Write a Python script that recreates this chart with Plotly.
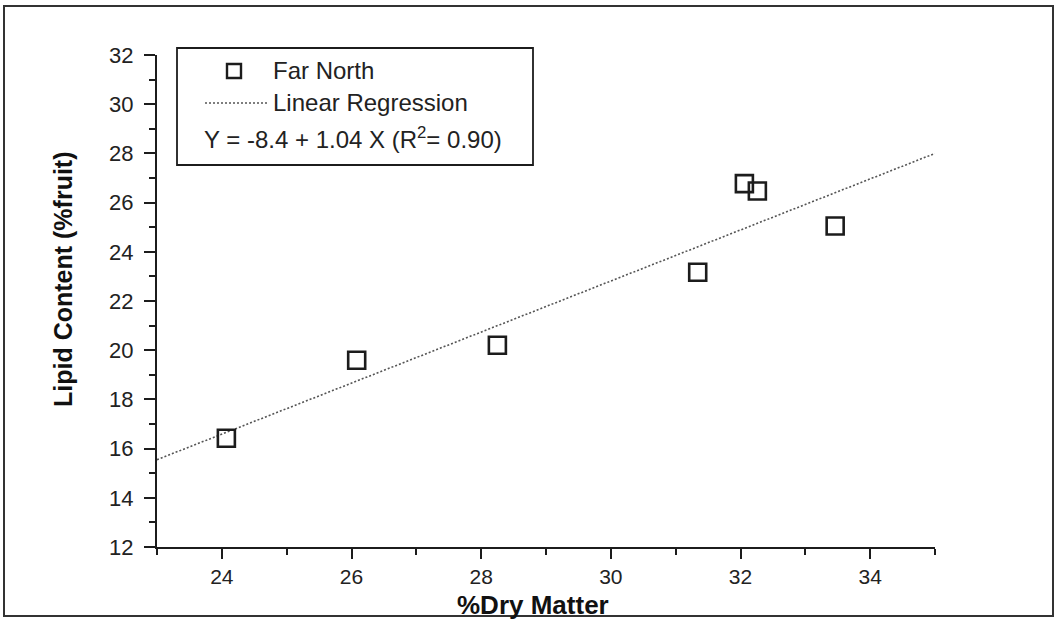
import plotly.graph_objects as go

# ---- data ----
dry_matter = [24.07, 26.08, 28.25, 31.34, 32.06, 32.26, 33.46]
lipid = [16.42, 19.59, 20.20, 23.17, 26.77, 26.47, 25.05]
reg_x = [23.0, 35.0]
reg_y = [15.55, 28.0]
x_ticks = [24, 26, 28, 30, 32, 34]
y_ticks = [12, 14, 16, 18, 20, 22, 24, 26, 28, 30, 32]
series_name = "Far North"
reg_name = "Linear Regression"
equation = "Y = -8.4 + 1.04 X (R<sup>2</sup>= 0.90)"
x_title = "%Dry Matter"
y_title = "Lipid Content (%fruit)"

W, H = 1056, 619
L, R, T, B = 157, 121, 55, 72
PW, PH = W - L - R, H - T - B


def px(x):
    return (x - L) / PW


def py(y):
    return (H - B - y) / PH


FONT = "Liberation Sans, Arial, Helvetica, sans-serif"
INK = "#1c1c1c"

fig = go.Figure()
fig.add_trace(go.Scatter(
    x=reg_x, y=reg_y, mode="lines", name=reg_name,
    line=dict(color="#555555", width=1.6, dash="2px,2px"),
    showlegend=False,
))
fig.add_trace(go.Scatter(
    x=dry_matter, y=lipid, mode="markers", name=series_name,
    marker=dict(symbol="square-open", size=17, color=INK,
                line=dict(color=INK, width=2.6)),
    showlegend=False,
))

axis_common = dict(
    showline=True, linecolor=INK, linewidth=2,
    ticks="outside", tickwidth=2, tickcolor=INK,
    showgrid=False, zeroline=False,
    minor=dict(ticks="outside", ticklen=6, tickwidth=2, tickcolor=INK, dtick=1, showgrid=False),
)

fig.update_xaxes(range=[23, 35], tickvals=x_ticks, ticklen=10, ticklabelstandoff=0,
                 tickfont=dict(family=FONT, size=21, color="#222222"), **axis_common)
fig.update_yaxes(range=[12, 32], tickvals=y_ticks, ticklen=11, ticklabelstandoff=6,
                 tickfont=dict(family=FONT, size=22, color="#222222"), **axis_common)

shapes = [
    # outer border
    dict(type="rect", xref="paper", yref="paper",
         x0=px(4), x1=px(1053), y0=py(616), y1=py(6),
         line=dict(color="#333333", width=2)),
    # legend box
    dict(type="rect", xref="paper", yref="paper",
         x0=px(177), x1=px(533), y0=py(165), y1=py(48),
         line=dict(color=INK, width=1.8), fillcolor="white", layer="below"),
    # legend key: square
    dict(type="rect", xref="paper", yref="paper",
         xsizemode="pixel", ysizemode="pixel",
         xanchor=px(234), yanchor=py(71),
         x0=-7, x1=7, y0=-7, y1=7,
         line=dict(color=INK, width=2.4)),
    # legend key: dotted line
    dict(type="line", xref="paper", yref="paper",
         x0=px(205), x1=px(267), y0=py(103), y1=py(103),
         line=dict(color="#555555", width=1.4, dash="2px,2px")),
]

annotations = [
    dict(text=series_name, xref="paper", yref="paper", x=px(271), y=py(71),
         xanchor="left", yanchor="middle", showarrow=False,
         font=dict(family=FONT, size=24, color="#222222")),
    dict(text=reg_name, xref="paper", yref="paper", x=px(271), y=py(103),
         xanchor="left", yanchor="middle", showarrow=False,
         font=dict(family=FONT, size=24, color="#222222")),
    dict(text=equation, xref="paper", yref="paper", x=px(202), y=py(138),
         xanchor="left", yanchor="middle", showarrow=False,
         font=dict(family=FONT, size=24, color="#222222")),
    dict(text="<b>" + x_title + "</b>", xref="paper", yref="paper", x=px(533), y=py(605),
         xanchor="center", yanchor="middle", showarrow=False,
         font=dict(family=FONT, size=26, color="#111111")),
    dict(text="<b>" + y_title + "</b>", xref="paper", yref="paper", x=px(63), y=py(279),
         xanchor="center", yanchor="middle", showarrow=False, textangle=-90,
         font=dict(family=FONT, size=25, color="#111111")),
]

fig.update_layout(
    width=W, height=H,
    margin=dict(l=L, r=R, t=T, b=B),
    paper_bgcolor="white", plot_bgcolor="white",
    shapes=shapes, annotations=annotations,
    showlegend=False,
)

fig.write_html(
    "out.html",
    config={"displayModeBar": False},
    post_script="document.body.style.margin='0px';document.body.style.overflow='hidden';",
)
